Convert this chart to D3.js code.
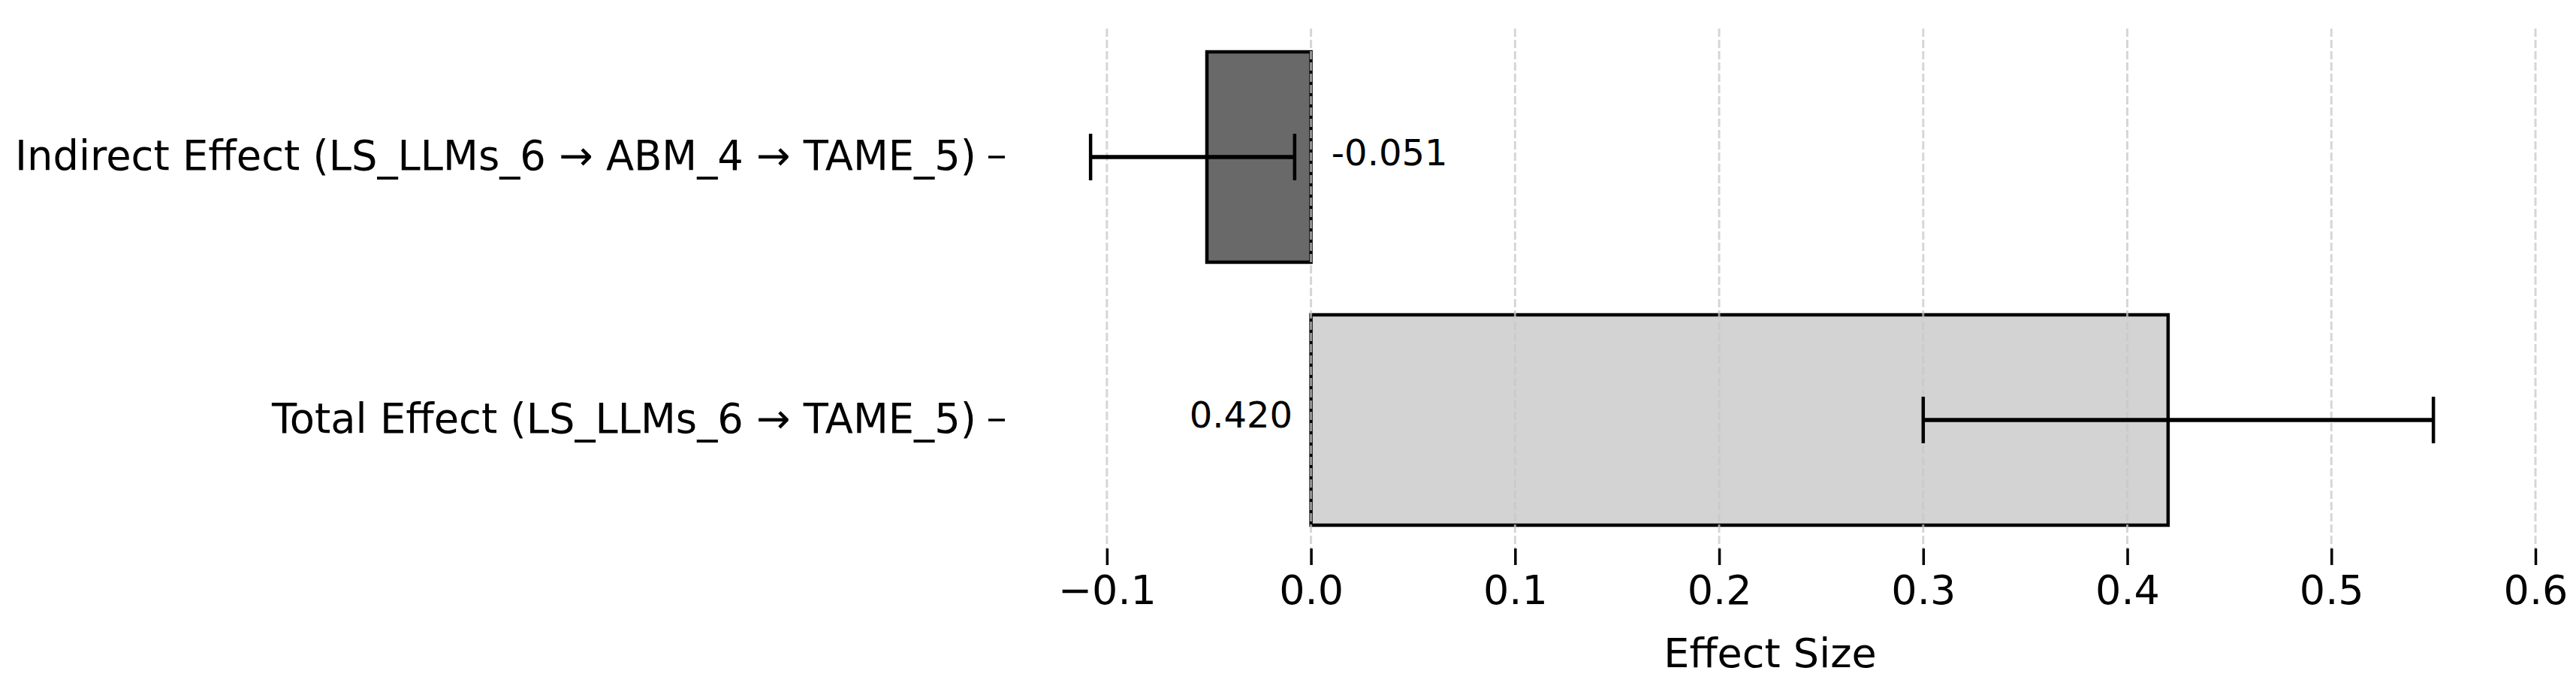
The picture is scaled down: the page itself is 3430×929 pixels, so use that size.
<!DOCTYPE html>
<html>
<head>
<meta charset="utf-8">
<script src="https://cdn.jsdelivr.net/npm/d3@7/dist/d3.min.js"></script>
<style>
  html, body { margin: 0; padding: 0; background: #fff; }
  svg { display: block; }
  text { font-family: "DejaVu Sans", sans-serif; }
</style>
</head>
<body>
<svg id="chart" width="3430" height="929"></svg>
<script>
// ---- data ----
const categories = [
  "Indirect Effect (LS_LLMs_6 \u2192 ABM_4 \u2192 TAME_5)",
  "Total Effect (LS_LLMs_6 \u2192 TAME_5)"
];
const effects  = [-0.051, 0.420];
const ciLower  = [-0.108, 0.300];
const ciUpper  = [-0.008, 0.550];
const valueLabels = ["-0.051", "0.420"];
const barColors = ["#696969", "#d3d3d3"];
const xTicks = [-0.1, 0.0, 0.1, 0.2, 0.3, 0.4, 0.5, 0.6];
const xDomain = [-0.15, 0.6];
const xLabel = "Effect Size";

// ---- layout ----
const W = 3430, H = 929;
const plot = { left: 1338, right: 3376, top: 38, bottom: 730 };

const svg = d3.select("#chart");

const x = d3.scaleLinear().domain(xDomain).range([plot.left, plot.right]);
const y = d3.scaleBand()
  .domain(categories)
  .range([plot.top, plot.bottom])
  .paddingInner(0.2)
  .paddingOuter(0.0886);

const rows = categories.map((c, i) => ({
  cat: c, v: effects[i], lo: ciLower[i], hi: ciUpper[i],
  label: valueLabels[i], color: barColors[i]
}));

// bars
svg.append("g").selectAll("rect").data(rows).join("rect")
  .attr("x", d => x(Math.min(0, d.v)))
  .attr("width", d => Math.abs(x(d.v) - x(0)))
  .attr("y", d => y(d.cat))
  .attr("height", y.bandwidth())
  .attr("fill", d => d.color)
  .attr("stroke", "#000")
  .attr("stroke-width", 4.5);

// grid (drawn above bars, as in matplotlib default)
svg.append("g").selectAll("line").data(xTicks).join("line")
  .attr("x1", d => x(d)).attr("x2", d => x(d))
  .attr("y1", plot.top).attr("y2", plot.bottom)
  .attr("stroke", "#c8c8c8")
  .attr("stroke-opacity", 0.75)
  .attr("stroke-width", 3)
  .attr("stroke-dasharray", "11,4");

// error bars
const capH = 31;
const eb = svg.append("g").attr("stroke", "#000");
eb.selectAll("line.e").data(rows).join("line").attr("class", "e")
  .attr("x1", d => x(d.lo)).attr("x2", d => x(d.hi))
  .attr("y1", d => y(d.cat) + y.bandwidth() / 2)
  .attr("y2", d => y(d.cat) + y.bandwidth() / 2)
  .attr("stroke-width", 5.5);
rows.forEach(d => {
  [d.lo, d.hi].forEach(v => {
    eb.append("line")
      .attr("x1", x(v)).attr("x2", x(v))
      .attr("y1", y(d.cat) + y.bandwidth() / 2 - capH)
      .attr("y2", y(d.cat) + y.bandwidth() / 2 + capH)
      .attr("stroke-width", 4.5);
  });
});

// value labels
svg.append("g").selectAll("text").data(rows).join("text")
  .attr("x", d => d.v < 0 ? x(0.01) : x(-0.009))
  .attr("y", d => y(d.cat) + y.bandwidth() / 2 + 10.5)
  .attr("text-anchor", d => d.v < 0 ? "start" : "end")
  .attr("font-size", 48)
  .attr("fill", "#000")
  .text(d => d.label);

// x axis
const xAxis = d3.axisBottom(x)
  .tickValues(xTicks)
  .tickFormat(d3.format(".1f"))
  .tickSize(22)
  .tickPadding(14);
const gx = svg.append("g")
  .attr("transform", `translate(0,${plot.bottom})`)
  .call(xAxis);
gx.select(".domain").remove();
gx.selectAll(".tick line").attr("stroke", "#000").attr("stroke-width", 3.5);
gx.selectAll(".tick text")
  .attr("font-size", 54)
  .attr("fill", "#000")
  .attr("font-family", "DejaVu Sans, sans-serif");

// y axis
const yAxis = d3.axisLeft(y).tickSize(22).tickPadding(16);
const gy = svg.append("g")
  .attr("transform", `translate(${plot.left},0)`)
  .call(yAxis);
gy.select(".domain").remove();
gy.selectAll(".tick line").attr("stroke", "#000").attr("stroke-width", 3.5);
gy.selectAll(".tick text")
  .attr("font-size", 54.3)
  .attr("fill", "#000")
  .attr("font-family", "DejaVu Sans, sans-serif");

// x label
svg.append("text")
  .attr("x", (plot.left + plot.right) / 2)
  .attr("y", 888)
  .attr("text-anchor", "middle")
  .attr("font-size", 54)
  .attr("fill", "#000")
  .text(xLabel);
</script>
</body>
</html>
